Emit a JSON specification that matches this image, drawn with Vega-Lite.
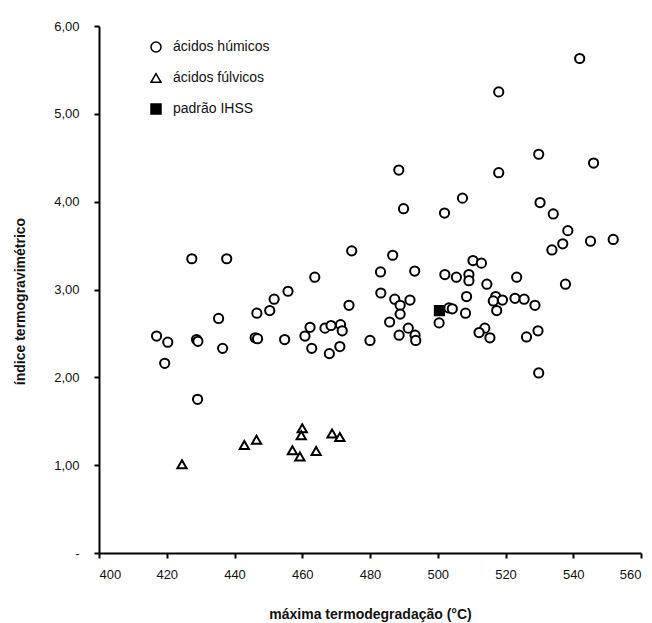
{
  "$schema": "https://vega.github.io/schema/vega-lite/v6.json",
  "width": 542,
  "height": 527,
  "autosize": "none",
  "padding": {"left": 99, "top": 26, "right": 11, "bottom": 70},
  "background": "white",
  "config": {
    "view": {"stroke": null},
    "font": "Liberation Sans",
    "axis": {
      "grid": false,
      "domainColor": "#000",
      "domainWidth": 2,
      "tickColor": "#000",
      "tickWidth": 2,
      "tickSize": 5,
      "labelFont": "Liberation Sans",
      "labelFontSize": 13,
      "labelColor": "#111",
      "titleFont": "Liberation Sans",
      "titleFontSize": 14,
      "titleFontWeight": "bold",
      "titleColor": "#111"
    },
    "legend": {
      "labelFont": "Liberation Sans",
      "labelFontSize": 14,
      "labelColor": "#111"
    }
  },
  "data": {
    "values": [
      {"t": 417.0, "i": 2.47, "grupo": "ácidos húmicos"},
      {"t": 420.3, "i": 2.40, "grupo": "ácidos húmicos"},
      {"t": 419.4, "i": 2.16, "grupo": "ácidos húmicos"},
      {"t": 428.8, "i": 2.43, "grupo": "ácidos húmicos"},
      {"t": 429.2, "i": 2.41, "grupo": "ácidos húmicos"},
      {"t": 435.3, "i": 2.67, "grupo": "ácidos húmicos"},
      {"t": 436.5, "i": 2.33, "grupo": "ácidos húmicos"},
      {"t": 429.1, "i": 1.75, "grupo": "ácidos húmicos"},
      {"t": 427.4, "i": 3.35, "grupo": "ácidos húmicos"},
      {"t": 437.7, "i": 3.35, "grupo": "ácidos húmicos"},
      {"t": 446.6, "i": 2.73, "grupo": "ácidos húmicos"},
      {"t": 450.4, "i": 2.76, "grupo": "ácidos húmicos"},
      {"t": 451.7, "i": 2.89, "grupo": "ácidos húmicos"},
      {"t": 455.8, "i": 2.98, "grupo": "ácidos húmicos"},
      {"t": 463.7, "i": 3.14, "grupo": "ácidos húmicos"},
      {"t": 446.1, "i": 2.45, "grupo": "ácidos húmicos"},
      {"t": 446.8, "i": 2.44, "grupo": "ácidos húmicos"},
      {"t": 454.8, "i": 2.43, "grupo": "ácidos húmicos"},
      {"t": 460.8, "i": 2.47, "grupo": "ácidos húmicos"},
      {"t": 462.3, "i": 2.57, "grupo": "ácidos húmicos"},
      {"t": 462.8, "i": 2.33, "grupo": "ácidos húmicos"},
      {"t": 466.7, "i": 2.56, "grupo": "ácidos húmicos"},
      {"t": 468.5, "i": 2.59, "grupo": "ácidos húmicos"},
      {"t": 471.3, "i": 2.60, "grupo": "ácidos húmicos"},
      {"t": 471.8, "i": 2.53, "grupo": "ácidos húmicos"},
      {"t": 468.0, "i": 2.27, "grupo": "ácidos húmicos"},
      {"t": 471.1, "i": 2.35, "grupo": "ácidos húmicos"},
      {"t": 473.8, "i": 2.82, "grupo": "ácidos húmicos"},
      {"t": 474.6, "i": 3.44, "grupo": "ácidos húmicos"},
      {"t": 480.0, "i": 2.42, "grupo": "ácidos húmicos"},
      {"t": 483.2, "i": 2.96, "grupo": "ácidos húmicos"},
      {"t": 483.1, "i": 3.20, "grupo": "ácidos húmicos"},
      {"t": 486.7, "i": 3.39, "grupo": "ácidos húmicos"},
      {"t": 487.3, "i": 2.89, "grupo": "ácidos húmicos"},
      {"t": 488.9, "i": 2.82, "grupo": "ácidos húmicos"},
      {"t": 491.8, "i": 2.88, "grupo": "ácidos húmicos"},
      {"t": 488.9, "i": 2.72, "grupo": "ácidos húmicos"},
      {"t": 485.8, "i": 2.63, "grupo": "ácidos húmicos"},
      {"t": 491.3, "i": 2.56, "grupo": "ácidos húmicos"},
      {"t": 488.6, "i": 2.48, "grupo": "ácidos húmicos"},
      {"t": 493.2, "i": 3.21, "grupo": "ácidos húmicos"},
      {"t": 488.5, "i": 4.36, "grupo": "ácidos húmicos"},
      {"t": 489.9, "i": 3.92, "grupo": "ácidos húmicos"},
      {"t": 493.3, "i": 2.48, "grupo": "ácidos húmicos"},
      {"t": 493.5, "i": 2.42, "grupo": "ácidos húmicos"},
      {"t": 500.4, "i": 2.62, "grupo": "ácidos húmicos"},
      {"t": 502.1, "i": 3.17, "grupo": "ácidos húmicos"},
      {"t": 502.0, "i": 3.87, "grupo": "ácidos húmicos"},
      {"t": 503.3, "i": 2.79, "grupo": "ácidos húmicos"},
      {"t": 504.3, "i": 2.78, "grupo": "ácidos húmicos"},
      {"t": 505.5, "i": 3.14, "grupo": "ácidos húmicos"},
      {"t": 507.3, "i": 4.04, "grupo": "ácidos húmicos"},
      {"t": 508.5, "i": 2.92, "grupo": "ácidos húmicos"},
      {"t": 508.2, "i": 2.73, "grupo": "ácidos húmicos"},
      {"t": 509.2, "i": 3.17, "grupo": "ácidos húmicos"},
      {"t": 509.2, "i": 3.10, "grupo": "ácidos húmicos"},
      {"t": 510.4, "i": 3.33, "grupo": "ácidos húmicos"},
      {"t": 512.9, "i": 3.30, "grupo": "ácidos húmicos"},
      {"t": 514.5, "i": 3.06, "grupo": "ácidos húmicos"},
      {"t": 513.9, "i": 2.56, "grupo": "ácidos húmicos"},
      {"t": 512.2, "i": 2.51, "grupo": "ácidos húmicos"},
      {"t": 515.4, "i": 2.45, "grupo": "ácidos húmicos"},
      {"t": 517.1, "i": 2.92, "grupo": "ácidos húmicos"},
      {"t": 516.4, "i": 2.87, "grupo": "ácidos húmicos"},
      {"t": 519.1, "i": 2.88, "grupo": "ácidos húmicos"},
      {"t": 517.4, "i": 2.76, "grupo": "ácidos húmicos"},
      {"t": 518.0, "i": 5.25, "grupo": "ácidos húmicos"},
      {"t": 518.0, "i": 4.33, "grupo": "ácidos húmicos"},
      {"t": 522.8, "i": 2.90, "grupo": "ácidos húmicos"},
      {"t": 525.5, "i": 2.89, "grupo": "ácidos húmicos"},
      {"t": 523.3, "i": 3.14, "grupo": "ácidos húmicos"},
      {"t": 526.2, "i": 2.46, "grupo": "ácidos húmicos"},
      {"t": 528.7, "i": 2.82, "grupo": "ácidos húmicos"},
      {"t": 529.6, "i": 2.53, "grupo": "ácidos húmicos"},
      {"t": 529.8, "i": 2.05, "grupo": "ácidos húmicos"},
      {"t": 529.8, "i": 4.54, "grupo": "ácidos húmicos"},
      {"t": 530.2, "i": 3.99, "grupo": "ácidos húmicos"},
      {"t": 534.1, "i": 3.86, "grupo": "ácidos húmicos"},
      {"t": 533.7, "i": 3.45, "grupo": "ácidos húmicos"},
      {"t": 536.9, "i": 3.52, "grupo": "ácidos húmicos"},
      {"t": 538.4, "i": 3.67, "grupo": "ácidos húmicos"},
      {"t": 537.7, "i": 3.06, "grupo": "ácidos húmicos"},
      {"t": 545.1, "i": 3.55, "grupo": "ácidos húmicos"},
      {"t": 546.0, "i": 4.44, "grupo": "ácidos húmicos"},
      {"t": 551.8, "i": 3.57, "grupo": "ácidos húmicos"},
      {"t": 541.9, "i": 5.63, "grupo": "ácidos húmicos"},
      {"t": 424.5, "i": 1.01, "grupo": "ácidos fúlvicos"},
      {"t": 442.9, "i": 1.23, "grupo": "ácidos fúlvicos"},
      {"t": 446.5, "i": 1.29, "grupo": "ácidos fúlvicos"},
      {"t": 457.1, "i": 1.17, "grupo": "ácidos fúlvicos"},
      {"t": 459.3, "i": 1.10, "grupo": "ácidos fúlvicos"},
      {"t": 460.0, "i": 1.42, "grupo": "ácidos fúlvicos"},
      {"t": 459.7, "i": 1.34, "grupo": "ácidos fúlvicos"},
      {"t": 464.1, "i": 1.16, "grupo": "ácidos fúlvicos"},
      {"t": 468.8, "i": 1.36, "grupo": "ácidos fúlvicos"},
      {"t": 471.1, "i": 1.32, "grupo": "ácidos fúlvicos"},
      {"t": 500.5, "i": 2.76, "grupo": "padrão IHSS"}
    ]
  },
  "mark": {"type": "point", "filled": true, "stroke": "#000", "strokeWidth": 2, "opacity": 1},
  "encoding": {
    "x": {
      "field": "t", "type": "quantitative",
      "scale": {"domain": [400, 560], "nice": false, "zero": false},
      "axis": {"values": [400, 420, 440, 460, 480, 500, 520, 540, 560], "labelPadding": 10, "title": "máxima termodegradação (°C)", "titlePadding": 26}
    },
    "y": {
      "field": "i", "type": "quantitative",
      "scale": {"domain": [0, 6], "nice": false},
      "axis": {
        "values": [0, 1, 2, 3, 4, 5, 6],
        "labelExpr": "datum.value == 0 ? '-' : replace(format(datum.value, '.2f'), '.', ',')",
        "labelPadding": 15,
        "title": "índice termogravimétrico",
        "titleAngle": 270,
        "titleX": -79,
        "titleY": 275,
        "titleAlign": "center",
        "titleBaseline": "middle"
      }
    },
    "shape": {
      "field": "grupo", "type": "nominal",
      "scale": {"domain": ["ácidos húmicos", "ácidos fúlvicos", "padrão IHSS"], "range": ["circle", "triangle-up", "square"]},
      "legend": {"title": null, "orient": "none", "legendX": 50, "legendY": 14, "rowPadding": 15, "labelOffset": 10, "symbolSize": 100,
        "encode": {"symbols": {"update": {"stroke": {"value": "#000"}, "strokeWidth": {"value": 2}}}}}
    },
    "fill": {
      "field": "grupo", "type": "nominal",
      "scale": {"domain": ["ácidos húmicos", "ácidos fúlvicos", "padrão IHSS"], "range": ["#ffffff", "#ffffff", "#000000"]},
      "legend": {"title": null, "orient": "none", "legendX": 50, "legendY": 14, "rowPadding": 15, "labelOffset": 10, "symbolSize": 100,
        "encode": {"symbols": {"update": {"stroke": {"value": "#000"}, "strokeWidth": {"value": 2}}}}}
    },
    "size": {"value": 85}
  }
}
